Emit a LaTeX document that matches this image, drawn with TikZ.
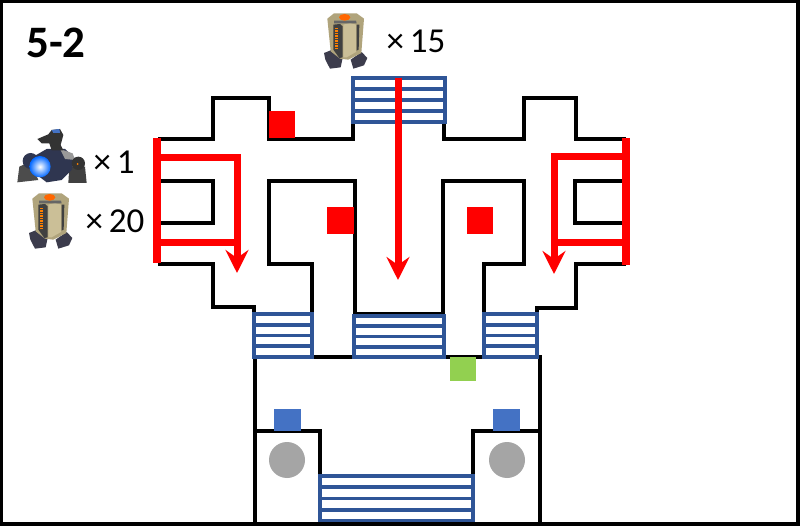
\documentclass[tikz,border=0pt]{standalone}
\usepackage{fontspec}
\setmainfont{Carlito}
\usetikzlibrary{arrows.meta}
\definecolor{stairblue}{HTML}{2F5597}
\definecolor{boxblue}{HTML}{4472C4}
\definecolor{boxgreen}{HTML}{92D050}
\definecolor{boxgray}{HTML}{A5A5A5}
\definecolor{cratetan}{HTML}{B0A47C}
\definecolor{cratelight}{HTML}{CBBF97}
\definecolor{cratedark}{HTML}{3C3C4C}
\definecolor{mechdark}{HTML}{2F3650}
\tikzset{
	wall/.style={black, line width=3.6pt},
	stairline/.style={stairblue, line width=3.6pt},
	redline/.style={red, line width=7pt},
	redbar/.style={red, line width=8pt},
	redarrow/.style={red, line width=7pt, -{Stealth[length=23pt, width=23pt, inset=8pt]}},
	count/.style={anchor=base west, inner sep=0pt, font=\fontsize{35}{35}\selectfont},
	crate/.pic={
		\fill[cratedark] (12,135) -- (45,122) -- (68,150) -- (62,178) -- (30,182) -- (16,155) -- cycle;
		\fill[cratedark] (92,155) -- (125,132) -- (142,150) -- (132,172) -- (100,182) -- cycle;
		\fill[cratetan] (22,32) -- (42,16) -- (110,16) -- (132,32) -- (124,135) -- (85,155) -- (60,152) -- (32,130) -- cycle;
		\fill[black!75] (40,50) -- (60,48) -- (68,55) -- (68,148) -- (58,150) -- (40,125) -- cycle;
		\draw[orange, line width=2.5pt, dash pattern=on 1.5pt off 1pt] (50,60) -- (50,122);
		\fill[cratelight] (70,50) -- (90,45) -- (108,50) -- (108,132) -- (80,148) -- (70,148) -- cycle;
		\fill[black!75] (110,50) -- (118,50) -- (116,125) -- (110,128) -- cycle;
		\fill[black!60] (42,38) -- (108,38) -- (110,46) -- (42,46) -- cycle;
		\fill[orange!80!red] (74,28) ellipse (17 and 10);
	}
}
\begin{document}
\begin{tikzpicture}[x=1pt, y=-1pt]
	\useasboundingbox (0,0) rectangle (800,526);
	\fill[white] (0,0) rectangle (800,526);
	% walls
	\draw[wall] (158,139) -- (213,139) -- (213,98) -- (269,98) -- (269,139) -- (353,139) -- (353,122);
	\draw[wall] (444,122) -- (444,139) -- (524,139) -- (524,98) -- (576,98) -- (576,139) -- (626,139);
	\draw[wall] (158,181) -- (213,181) -- (213,223) -- (158,223);
	\draw[wall] (626,181) -- (575,181) -- (575,223) -- (626,223);
	\draw[wall] (158,264) -- (213,264) -- (213,307) -- (254,307) -- (254,314);
	\draw[wall] (626,264) -- (576,264) -- (576,308) -- (537,308) -- (537,314);
	\draw[wall] (312,357) -- (312,264) -- (269,264) -- (269,181) -- (355,181) -- (355,314) -- (443,314) -- (443,181) -- (524,181) -- (524,264) -- (484,264) -- (484,357);
	\draw[wall] (255,523) -- (255,357) -- (540,357) -- (540,523);
	\draw[wall] (255,431) -- (320,431) -- (320,476);
	\draw[wall] (540,431) -- (473,431) -- (473,476);
	% stairs
	\foreach \xa/\ya/\xb/\yb in {353/78/445/122, 254/314/312/357, 354/316/444/357, 484/314/537/357, 320/476/473/521} {
		\draw[stairline] (\xa,\ya) rectangle (\xb,\yb);
		\foreach \f in {0.25,0.5,0.75}
			\draw[stairline] (\xa,{\ya+\f*(\yb-\ya)}) -- (\xb,{\ya+\f*(\yb-\ya)});
	}
	% boxes
	\fill[red] (269,111) rectangle (295,138);
	\fill[red] (327,207) rectangle (354,234);
	\fill[red] (467,207) rectangle (493,234);
	\fill[boxgreen] (450,357) rectangle (476,381);
	\fill[boxblue] (274,409) rectangle (301,431);
	\fill[boxblue] (493,409) rectangle (520,431);
	\fill[boxgray] (287,460) circle (18);
	\fill[boxgray] (507,460) circle (18);
	% red routes
	\draw[redbar] (157,138) -- (157,263);
	\draw[redline] (157,158) -- (237,158);
	\draw[redline] (157,243) -- (237,243);
	\draw[redarrow] (237,154.5) -- (237,273);
	\draw[redbar] (626,138) -- (626,265);
	\draw[redline] (626,157) -- (554,157);
	\draw[redline] (626,243) -- (554,243);
	\draw[redarrow] (554,153.5) -- (554,274);
	\draw[redarrow] (398,78) -- (398,280);
	% robot
	\begin{scope}[shift={(10,125)}, scale=1/3]
		\fill[black!70] (28,125) -- (60,110) -- (85,165) -- (22,172) -- cycle;
		\fill[black!75] (178,125) -- (225,125) -- (230,174) -- (175,174) -- cycle;
		\fill[mechdark] (62,108) circle (24);
		\fill[mechdark] (70,95) -- (110,72) -- (165,72) -- (195,100) -- (185,135) -- (155,165) -- (110,172) -- (75,145) -- cycle;
		\fill[black!40] (150,72) -- (188,85) -- (195,105) -- (165,102) -- cycle;
		\fill[black!80] (205,115) circle (20);
		\fill[orange] (203,117) circle (3);
		\fill[black!80] (82,42) -- (115,28) -- (125,15) -- (150,12) -- (160,30) -- (152,60) -- (160,76) -- (125,76) -- (118,55) -- (95,55) -- cycle;
		\fill[boxblue] (125,15) -- (148,12) -- (150,24) -- (130,24) -- cycle;
		\shade[inner color=white, middle color=cyan!30, outer color=blue!60!cyan] (90,125) circle (32);
	\end{scope}
	% crates
	\pic[scale=1/3] at (320,8) {crate};
	\pic[scale=1/3] at (25,188) {crate};
	% labels
	\node[anchor=base west, inner sep=0pt, font=\bfseries\fontsize{45}{45}\selectfont] (level) at (26,58) {5-2};
	\node[count] (countTop) at (386.5,53) {×\,15};
	\node[count] (countRobot) at (93.5,174) {×\,1};
	\node[count] (countCrate) at (85.5,233) {×\,20};
	% frame
	\draw[black, line width=3.5pt] (1.5,1.5) rectangle (798,524);
\end{tikzpicture}
\end{document}
